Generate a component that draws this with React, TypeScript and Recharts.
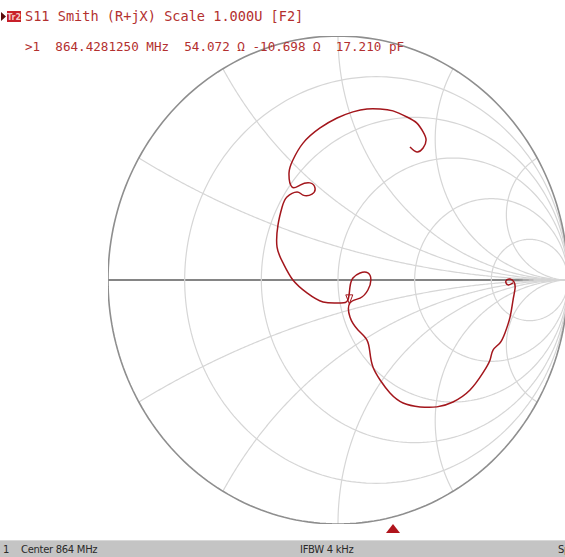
import React from 'react';
import { ScatterChart, Scatter, XAxis, YAxis, ReferenceLine } from 'recharts';

// Smith chart grid values (normalized)
const resistanceCircles = [0.2, 0.5, 1, 2, 5];
const reactanceArcs = [0.268, 0.577, 1, 1.732, 3.732];

const traceRe = [
  0.313, 0.343, 0.370, 0.383, 0.370, 0.343, 0.300, 0.239, 0.183, 0.126,
  0.065, -0.004, -0.078, -0.152, -0.196, -0.213, -0.200, -0.165, -0.122, -0.100,
  -0.113, -0.152, -0.178, -0.222, -0.243, -0.261, -0.265, -0.239, -0.196, -0.135,
  -0.065, 0.009, 0.043, 0.052, 0.065, 0.096, 0.130, 0.143, 0.130, 0.096,
  0.052, 0.052, 0.087, 0.126, 0.139, 0.152, 0.183, 0.226, 0.283, 0.357,
  0.430, 0.500, 0.574, 0.630, 0.661, 0.674, 0.704, 0.726, 0.748, 0.761,
  0.770, 0.765, 0.748, 0.730, 0.739, 0.761,
];
const traceIm = [
  0.545, 0.525, 0.541, 0.574, 0.607, 0.643, 0.668, 0.693, 0.701, 0.701,
  0.689, 0.664, 0.623, 0.561, 0.492, 0.439, 0.381, 0.389, 0.398, 0.377,
  0.352, 0.348, 0.361, 0.340, 0.299, 0.225, 0.135, 0.070, 0.000, -0.053,
  -0.090, -0.094, -0.082, -0.029, 0.008, 0.029, 0.029, 0.000, -0.041, -0.074,
  -0.094, -0.152, -0.205, -0.246, -0.299, -0.357, -0.410, -0.463, -0.504, -0.520,
  -0.520, -0.500, -0.451, -0.381, -0.328, -0.287, -0.258, -0.217, -0.152, -0.082,
  -0.033, -0.008, 0.004, -0.004, -0.020, -0.012,
];

// Marker readout
const z0 = 50;
const markerRes = 54.072;
const markerReact = -10.698;

const headerLabel = 'S11 Smith (R+jX) Scale 1.000U [F2]';
const markerLabel = '>1  864.4281250 MHz  54.072 \u03A9 -10.698 \u03A9  17.210 pF';
const traceBadge = 'Tr2';
const channelLabel = '1';
const centerLabel = 'Center 864 MHz';
const ifbwLabel = 'IFBW 4 kHz';
const spanLabel = 'Span 10 MHz';

type P = { x: number; y: number };

function rCircle(r: number): P[] {
  const c = r / (1 + r);
  const R = 1 / (1 + r);
  const pts: P[] = [];
  const n = 240;
  for (let i = 0; i <= n; i++) {
    const a = (i / n) * 2 * Math.PI;
    pts.push({ x: c + R * Math.cos(a), y: R * Math.sin(a) });
  }
  return pts;
}

function gamma(r: number, x: number): P {
  const den = (r + 1) * (r + 1) + x * x;
  return { x: (r * r + x * x - 1) / den, y: (2 * x) / den };
}

function xArc(x: number): P[] {
  const pts: P[] = [];
  const n = 300;
  for (let i = 0; i < n; i++) {
    const t = i / n;
    const r = t / (1 - t);
    pts.push(gamma(r, x));
  }
  pts.push({ x: 1, y: 0 });
  return pts;
}

const tracePts: P[] = traceRe.map((v, i) => ({ x: v, y: traceIm[i] }));
const markerPt: P[] = [gamma(markerRes / z0, markerReact / z0)];

const noShape = () => <g />;

const markerShape = (props: any) => {
  const { cx, cy } = props;
  return (
    <g>
      <polygon
        points={`${cx - 3.5},${cy - 9} ${cx + 3.5},${cy - 9} ${cx},${cy}`}
        fill="none"
        stroke="#a3161c"
        strokeWidth={1}
      />
    </g>
  );
};

const gridStroke = '#d6d6d6';

export default function App() {
  return (
    <div
      style={{
        position: 'absolute',
        left: 0,
        top: 0,
        width: 565,
        height: 557,
        overflow: 'hidden',
        background: '#ffffff',
      }}
    >
      <div style={{ position: 'absolute', left: 0, top: 0 }}>
        <ScatterChart
          width={568}
          height={557}
          margin={{ top: 36, right: 0, bottom: 33, left: 108 }}
        >
          <XAxis type="number" dataKey="x" domain={[-1, 1]} hide allowDataOverflow />
          <YAxis type="number" dataKey="y" domain={[-1, 1]} hide allowDataOverflow />
          {resistanceCircles.map((r) => (
            <Scatter
              key={'r' + r}
              data={rCircle(r)}
              line={{ stroke: gridStroke, strokeWidth: 1.2 }}
              shape={noShape}
              isAnimationActive={false}
            />
          ))}
          {reactanceArcs.map((x) => (
            <Scatter
              key={'xp' + x}
              data={xArc(x)}
              line={{ stroke: gridStroke, strokeWidth: 1.2 }}
              shape={noShape}
              isAnimationActive={false}
            />
          ))}
          {reactanceArcs.map((x) => (
            <Scatter
              key={'xn' + x}
              data={xArc(-x)}
              line={{ stroke: gridStroke, strokeWidth: 1.2 }}
              shape={noShape}
              isAnimationActive={false}
            />
          ))}
          <Scatter
            data={rCircle(0)}
            line={{ stroke: '#8e8e8e', strokeWidth: 1.6 }}
            shape={noShape}
            isAnimationActive={false}
          />
          <ReferenceLine y={0} stroke="#858585" strokeWidth={2} ifOverflow="extendDomain" />
          <Scatter
            data={tracePts}
            line={{ stroke: '#a3161c', strokeWidth: 1.5 }}
            lineJointType="natural"
            shape={noShape}
            isAnimationActive={false}
          />
          <Scatter data={markerPt} shape={markerShape} isAnimationActive={false} />
        </ScatterChart>
      </div>
      <svg
        width={565}
        height={557}
        style={{ position: 'absolute', left: 0, top: 0, pointerEvents: 'none' }}
      >
        <polygon points="1,12 6,16.5 1,21" fill="#5a0a0a" />
        <rect x={7} y={11} width={14} height={11} fill="#c8202a" />
        <text
          x={14}
          y={20}
          textAnchor="middle"
          fontFamily="DejaVu Sans"
          fontSize={8}
          fontWeight="bold"
          fill="#f4c8c8"
        >
          {traceBadge}
        </text>
        <text
          x={25}
          y={21}
          fontFamily="DejaVu Sans Mono"
          fontSize={13.6}
          fill="#b3302f"
        >
          {headerLabel}
        </text>
        <text
          x={25}
          y={51}
          fontFamily="DejaVu Sans Mono"
          fontSize={12.6}
          fill="#b3302f"
          style={{ whiteSpace: 'pre' }}
        >
          {markerLabel}
        </text>
        <polygon points="386,533 400,533 393,524" fill="#b0141c" />
        <rect x={0} y={540} width={565} height={17} fill="#c4c4c4" />
        <rect x={0} y={540} width={565} height={1} fill="#d8d8d8" />
        <text x={3} y={553} fontFamily="DejaVu Sans" fontSize={10} fill="#2a2a2a">
          {channelLabel}
        </text>
        <text x={21} y={553} fontFamily="DejaVu Sans" fontSize={10} fill="#2a2a2a" letterSpacing={-0.3}>
          {centerLabel}
        </text>
        <text x={300} y={553} fontFamily="DejaVu Sans" fontSize={10} fill="#2a2a2a" letterSpacing={-0.3}>
          {ifbwLabel}
        </text>
        <text x={558} y={553} fontFamily="DejaVu Sans" fontSize={10} fill="#2a2a2a" letterSpacing={-0.3}>
          {spanLabel}
        </text>
      </svg>
    </div>
  );
}
